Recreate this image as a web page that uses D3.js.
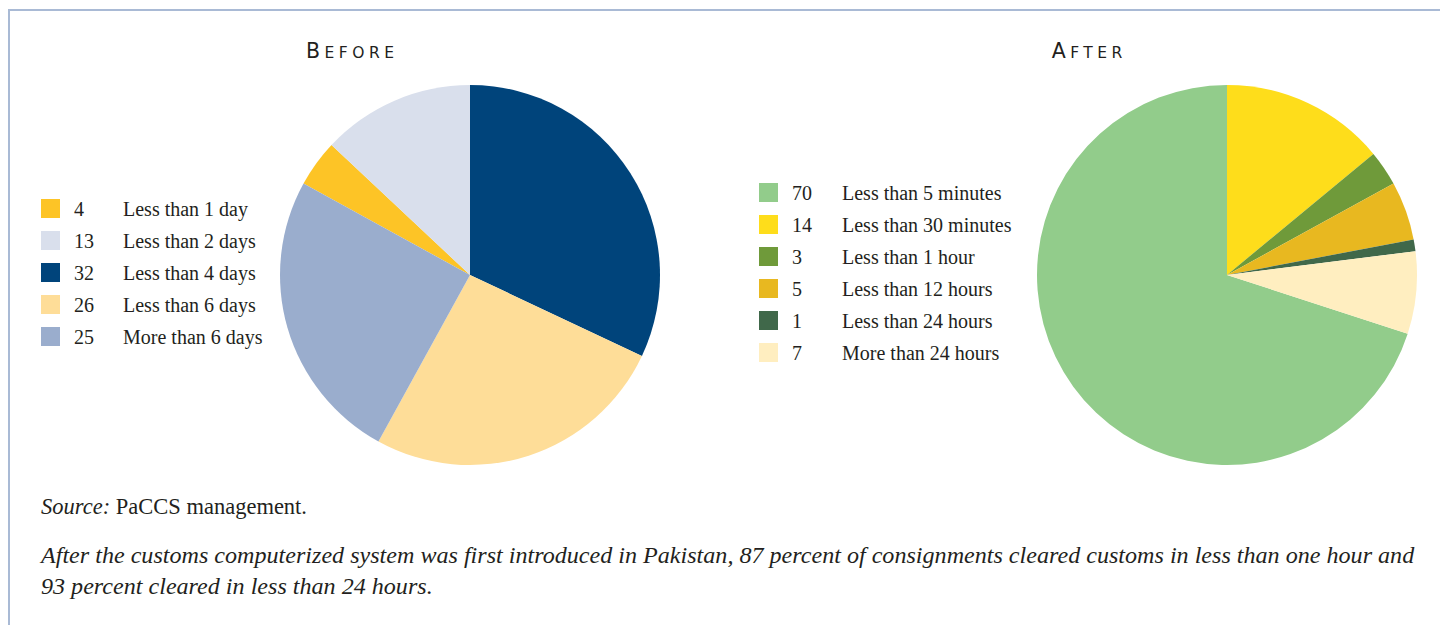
<!DOCTYPE html>
<html>
<head>
<meta charset="utf-8">
<script src="https://cdn.jsdelivr.net/npm/d3@7"></script>
<style>
  html, body { margin: 0; padding: 0; background: #fff; }
  svg { display: block; }
  .serif { font-family: "Liberation Serif", "Times New Roman", serif; fill: #231f20; }
  .title { font-family: "DejaVu Sans", sans-serif; fill: #231f20; }
</style>
</head>
<body>
<svg id="chart" width="1440" height="625"></svg>
<script>
// legend order, also the clockwise order of the slices
const beforeLabels = ["Less than 1 day", "Less than 2 days", "Less than 4 days", "Less than 6 days", "More than 6 days"];
const beforeValues = [4, 13, 32, 26, 25];
const beforeColors = ["#fdc426", "#d9dfec", "#00447b", "#fedd98", "#9aadcd"];

const afterLabels = ["Less than 5 minutes", "Less than 30 minutes", "Less than 1 hour", "Less than 12 hours", "Less than 24 hours", "More than 24 hours"];
const afterValues = [70, 14, 3, 5, 1, 7];
const afterColors = ["#92cc8b", "#fedd1b", "#6f9a3a", "#e8b820", "#40684a", "#ffeec0"];

const sourceText = "PaCCS management.";
const captionLines = [
  "After the customs computerized system was first introduced in Pakistan, 87 percent of consignments cleared customs in less than one hour and",
  "93 percent cleared in less than 24 hours."
];

const svg = d3.select("#chart");

// frame: top and left rule only
svg.append("path")
  .attr("d", "M9,625V10H1440")
  .attr("fill", "none")
  .attr("stroke", "#a9bad5")
  .attr("stroke-width", 2);

// small caps done by hand: big first letter, smaller capitals after
function drawTitle(text, x) {
  const spacing = 4.5;
  const t = svg.append("text")
    .attr("class", "title")
    .attr("x", x + spacing / 2)
    .attr("y", 58)
    .attr("text-anchor", "middle")
    .style("letter-spacing", spacing + "px");
  t.append("tspan").style("font-size", "20.5px").text(text[0]);
  t.append("tspan").style("font-size", "15.5px").text(text.slice(1).toUpperCase());
}

// `lead` = index of the legend item whose slice starts at 12 o'clock
function drawPie({ cx, cy, r, values, colors, lead }) {
  const total = d3.sum(values);
  const start = -d3.sum(values.slice(0, lead)) / total * 2 * Math.PI;
  const pie = d3.pie().sort(null).value(d => d).startAngle(start).endAngle(start + 2 * Math.PI);
  const arc = d3.arc().innerRadius(0).outerRadius(r);
  svg.append("g")
    .attr("transform", `translate(${cx},${cy})`)
    .selectAll("path")
    .data(pie(values))
    .join("path")
    .attr("d", arc)
    .attr("fill", (d, i) => colors[i]);
}

function drawLegend({ x, y, labels, values, colors, numX, labX }) {
  const step = 32;
  const row = svg.append("g").selectAll("g")
    .data(values)
    .join("g")
    .attr("transform", (d, i) => `translate(0,${y + i * step})`);
  row.append("rect")
    .attr("x", x).attr("y", -10)
    .attr("width", 19).attr("height", 19)
    .attr("fill", (d, i) => colors[i]);
  row.append("text")
    .attr("class", "serif")
    .attr("x", numX).attr("y", 7)
    .style("font-size", "20px")
    .text(d => d);
  row.append("text")
    .attr("class", "serif")
    .attr("x", labX).attr("y", 7)
    .style("font-size", "20px")
    .text((d, i) => labels[i]);
}

drawTitle("Before", 350);
drawPie({ cx: 470, cy: 275, r: 190, values: beforeValues, colors: beforeColors, lead: 2 });
drawLegend({ x: 41, y: 209, labels: beforeLabels, values: beforeValues, colors: beforeColors, numX: 74, labX: 123 });

drawTitle("After", 1087);
drawPie({ cx: 1227, cy: 275, r: 190, values: afterValues, colors: afterColors, lead: 1 });
drawLegend({ x: 759, y: 193, labels: afterLabels, values: afterValues, colors: afterColors, numX: 792, labX: 842 });

// source + caption
const src = svg.append("text")
  .attr("class", "serif")
  .attr("x", 41).attr("y", 514)
  .style("font-size", "22.5px");
src.append("tspan").style("font-style", "italic").text("Source:");
src.append("tspan").text(" " + sourceText);

svg.append("g").selectAll("text")
  .data(captionLines)
  .join("text")
  .attr("class", "serif")
  .attr("x", 41)
  .attr("y", (d, i) => 563 + i * 31)
  .style("font-style", "italic")
  .style("font-size", "24.1px")
  .text(d => d);
</script>
</body>
</html>
